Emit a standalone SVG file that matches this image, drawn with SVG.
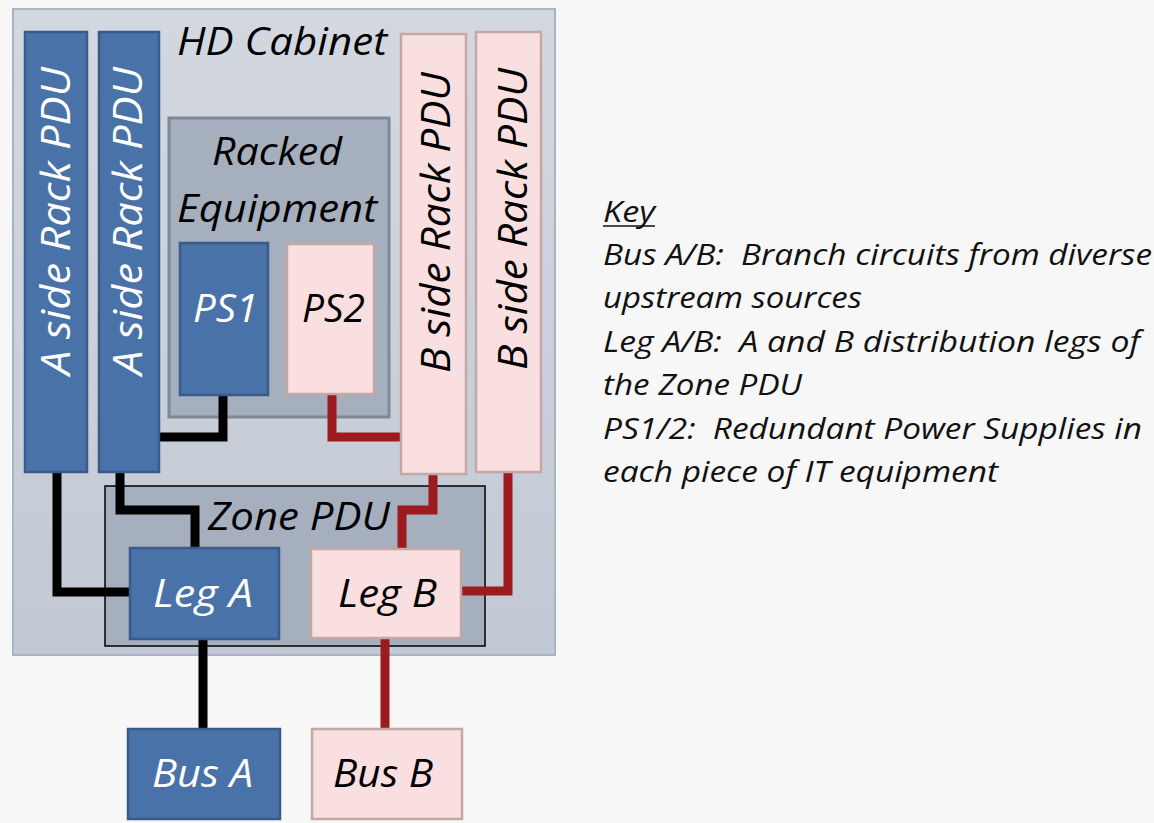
<svg xmlns="http://www.w3.org/2000/svg" width="1154" height="823" viewBox="0 0 1154 823">
<defs>
<linearGradient id="cab" x1="0" y1="0" x2="0" y2="1">
<stop offset="0" stop-color="#d3d8e0"/>
<stop offset="1" stop-color="#c2c9d4"/>
</linearGradient>
<style>
text{font-family:"Open Sans","Noto Sans","DejaVu Sans",sans-serif;font-style:italic;}
.blue{fill:#4872a8;stroke:#3a5b89;stroke-width:2.5;}
.pink{fill:#f9dfdf;stroke:#c6a7a7;stroke-width:2.5;}
.big{font-size:38px;fill:#000;}
.bigw{font-size:38px;fill:#fff;}
.vert{font-size:41px;}
.key{font-size:30px;fill:#111;}
.blk{fill:none;stroke:#000;stroke-width:9;}
.red{fill:none;stroke:#9b1b1e;stroke-width:9;}
</style>
</defs>
<rect x="0" y="0" width="1154" height="823" fill="#f7f7f7"/>
<g id="cabinet">
<rect x="13" y="9" width="542" height="646" fill="url(#cab)" stroke="#a8b3c3" stroke-width="2"/>
<text class="big" x="177" y="55" textLength="210" lengthAdjust="spacingAndGlyphs">HD Cabinet</text>
</g>
<g id="racked-equipment">
<rect x="169" y="118" width="220" height="299" fill="#a6afbd" stroke="#7e8896" stroke-width="3"/>
<text class="big" x="212" y="165" textLength="130" lengthAdjust="spacingAndGlyphs">Racked</text>
<text class="big" x="177" y="222" textLength="200" lengthAdjust="spacingAndGlyphs">Equipment</text>
</g>
<g id="zone-pdu">
<rect x="105" y="486" width="380" height="160" fill="#a6afbd" stroke="#000" stroke-width="1.5"/>
<text class="big" x="208" y="530" textLength="182" lengthAdjust="spacingAndGlyphs">Zone PDU</text>
</g>
<g id="connectors">
<polyline class="blk" points="57,471 57,592 131,592"/>
<polyline class="blk" points="120,471 120,510 195,510 195,549"/>
<polyline class="blk" points="223,394 223,437 158,437"/>
<polyline class="red" points="332,393 332,437 402,437"/>
<polyline class="red" points="433,473 433,510 402,510 402,550"/>
<polyline class="red" points="508,471 508,591 460,591"/>
<line class="blk" x1="203" y1="638" x2="203" y2="730"/>
<line class="red" x1="385" y1="637" x2="385" y2="730"/>
</g>
<g id="a-rack-pdu-1">
<rect class="blue" x="25" y="32" width="62" height="440"/>
<text class="vert" fill="#fff" transform="translate(70,375) rotate(-90)" textLength="308" lengthAdjust="spacingAndGlyphs">A side Rack PDU</text>
</g>
<g id="a-rack-pdu-2">
<rect class="blue" x="99" y="32" width="60" height="440"/>
<text class="vert" fill="#fff" transform="translate(142,375) rotate(-90)" textLength="308" lengthAdjust="spacingAndGlyphs">A side Rack PDU</text>
</g>
<g id="b-rack-pdu-1">
<rect class="pink" x="401" y="34" width="65" height="440"/>
<text class="vert" fill="#000" transform="translate(450,373) rotate(-90)" textLength="301" lengthAdjust="spacingAndGlyphs">B side Rack PDU</text>
</g>
<g id="b-rack-pdu-2">
<rect class="pink" x="476" y="32" width="65" height="440"/>
<text class="vert" fill="#000" transform="translate(527,370) rotate(-90)" textLength="302" lengthAdjust="spacingAndGlyphs">B side Rack PDU</text>
</g>
<g id="ps1">
<rect class="blue" x="180" y="243" width="88" height="152"/>
<text class="bigw" x="193" y="322" textLength="65" lengthAdjust="spacingAndGlyphs">PS1</text>
</g>
<g id="ps2">
<rect class="pink" x="287" y="244" width="87" height="150"/>
<text class="big" x="302" y="322" textLength="63" lengthAdjust="spacingAndGlyphs">PS2</text>
</g>
<g id="leg-a">
<rect class="blue" x="130" y="548" width="149" height="91"/>
<text class="bigw" x="153" y="607" textLength="100" lengthAdjust="spacingAndGlyphs">Leg A</text>
</g>
<g id="leg-b">
<rect class="pink" x="311" y="549" width="150" height="89"/>
<text class="big" x="338" y="607" textLength="99" lengthAdjust="spacingAndGlyphs">Leg B</text>
</g>
<g id="bus-a">
<rect class="blue" x="128" y="729" width="152" height="90"/>
<text class="bigw" x="152" y="787" textLength="101" lengthAdjust="spacingAndGlyphs">Bus A</text>
</g>
<g id="bus-b">
<rect class="pink" x="312" y="729" width="150" height="90"/>
<text class="big" x="333" y="787" textLength="100" lengthAdjust="spacingAndGlyphs">Bus B</text>
</g>
<g id="key">
<text class="key" x="603" y="222" textLength="52" lengthAdjust="spacingAndGlyphs">Key</text>
<line x1="603" y1="226" x2="655" y2="226" stroke="#111" stroke-width="1.5"/>
<text class="key" x="603" y="265" xml:space="preserve" textLength="549" lengthAdjust="spacingAndGlyphs">Bus A/B:  Branch circuits from diverse</text>
<text class="key" x="603" y="308" textLength="259" lengthAdjust="spacingAndGlyphs">upstream sources</text>
<text class="key" x="603" y="352" xml:space="preserve" textLength="537" lengthAdjust="spacingAndGlyphs">Leg A/B:  A and B distribution legs of</text>
<text class="key" x="603" y="395" textLength="199" lengthAdjust="spacingAndGlyphs">the Zone PDU</text>
<text class="key" x="603" y="439" xml:space="preserve" textLength="539" lengthAdjust="spacingAndGlyphs">PS1/2:  Redundant Power Supplies in</text>
<text class="key" x="603" y="482" textLength="395" lengthAdjust="spacingAndGlyphs">each piece of IT equipment</text>
</g>
</svg>
